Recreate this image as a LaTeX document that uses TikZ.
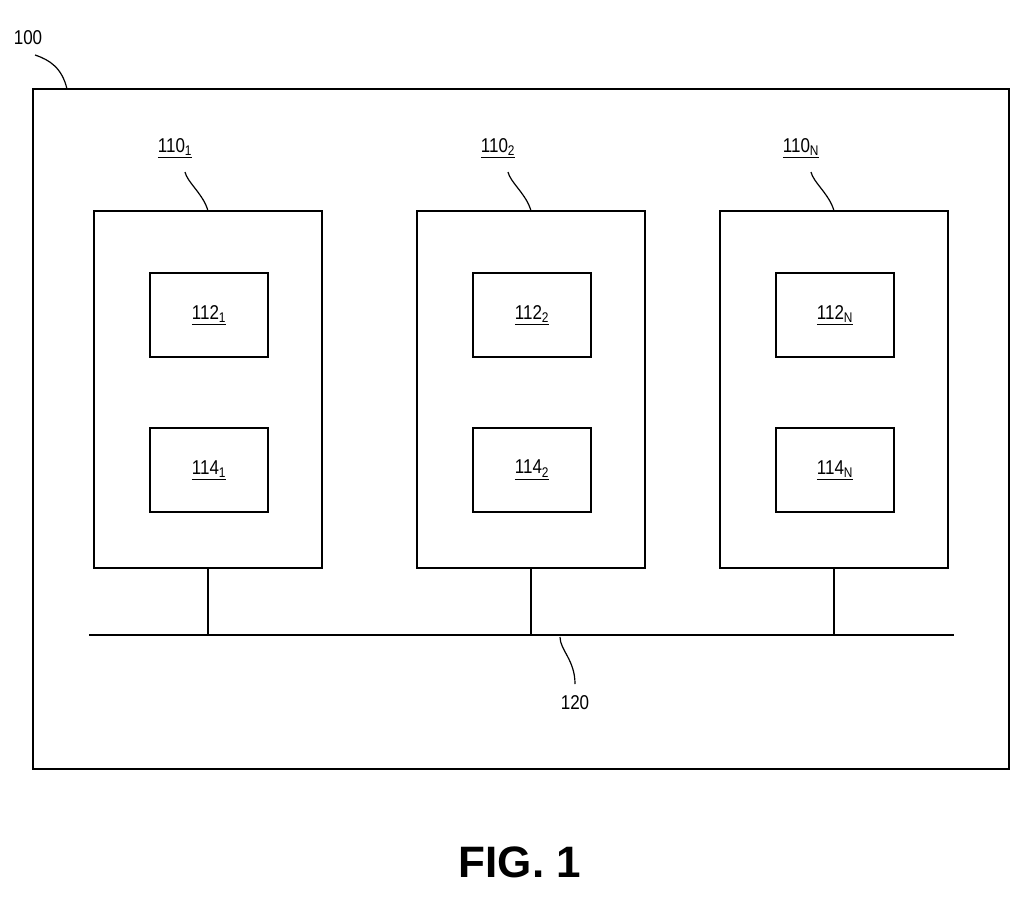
\documentclass[tikz,border=0pt]{standalone}
\usepackage{fontspec}
\setmainfont{Liberation Sans}
\begin{document}
\begin{tikzpicture}[x=0.75pt,y=-0.75pt,
  box/.style={draw,line width=1pt},
  lbl/.style={font=\fontsize{15}{16}\selectfont,xscale=0.85},
  lead/.style={line width=0.9pt}]
\useasboundingbox (0,0) rectangle (1024,908);
\draw[box] (33,89) rectangle (1009,769);
\node[lbl] (l100) at (28,38) {100};
\draw[lead] (35,55) .. controls (50,60) and (62,68) .. (67,89);
\foreach \x/\s/\c in {94/1/208, 417/2/531, 720/N/834}{
  \draw[box] (\x,211) rectangle ++(228,357);
  \draw[box] (\x+56,273) rectangle ++(118,84);
  \draw[box] (\x+56,428) rectangle ++(118,84);
  \node[lbl] at (\x+115,315) {\underline{112\textsubscript{\s}}};
  \node[lbl] at (\x+115,470) {\underline{114\textsubscript{\s}}};
  \node[lbl] at (\x+81,148) {\underline{110\textsubscript{\s}}};
  \draw[lead] (\x+91,172) .. controls (\x+93,182) and (\x+110,195) .. (\x+114,211);
  \draw[line width=1pt] (\c,568) -- (\c,635);
}
\draw[line width=1pt] (89,635) -- (954,635);
\node[lbl] (l120) at (575,703) {120};
\draw[lead] (560,637) .. controls (560,650) and (575,660) .. (575,684);
\node[font=\bfseries\fontsize{33}{35}\selectfont] (fig) at (520,862) {FIG. 1};
\end{tikzpicture}
\end{document}
